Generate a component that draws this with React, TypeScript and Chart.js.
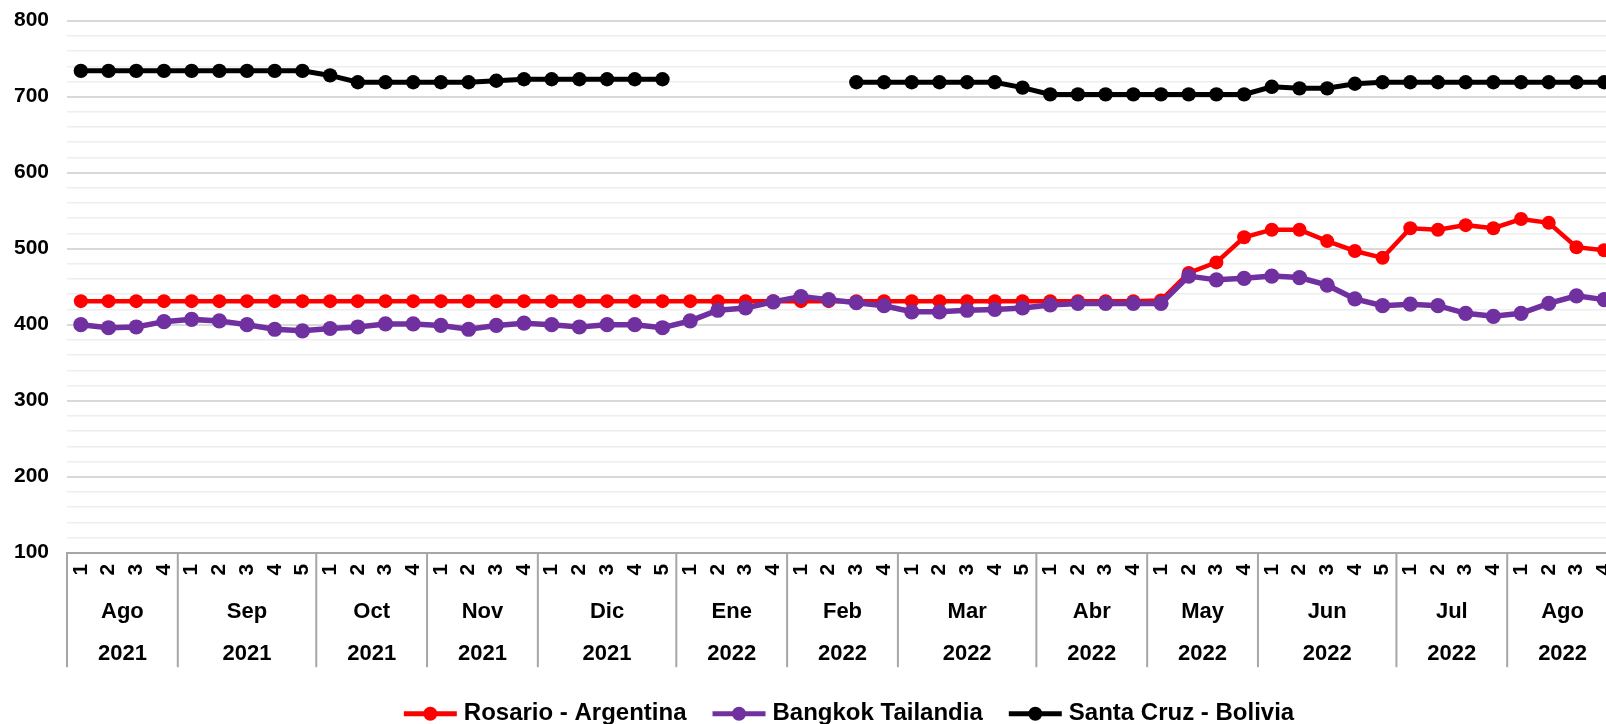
import { useEffect, useRef } from 'react';
import { Chart, registerables } from 'chart.js';

Chart.register(...registerables);

// ---------- data ----------
const weekLabels = [
  '1', '2', '3', '4',
  '1', '2', '3', '4', '5',
  '1', '2', '3', '4',
  '1', '2', '3', '4',
  '1', '2', '3', '4', '5',
  '1', '2', '3', '4',
  '1', '2', '3', '4',
  '1', '2', '3', '4', '5',
  '1', '2', '3', '4',
  '1', '2', '3', '4',
  '1', '2', '3', '4', '5',
  '1', '2', '3', '4',
  '1', '2', '3', '4',
];
const monthLabels = ['Ago', 'Sep', 'Oct', 'Nov', 'Dic', 'Ene', 'Feb', 'Mar', 'Abr', 'May', 'Jun', 'Jul', 'Ago'];
const yearLabels = ['2021', '2021', '2021', '2021', '2021', '2022', '2022', '2022', '2022', '2022', '2022', '2022', '2022'];
const weeksPerMonth = [4, 5, 4, 4, 5, 4, 4, 5, 4, 4, 5, 4, 4];

const rosario = [
  431, 431, 431, 431,
  431, 431, 431, 431, 431,
  431, 431, 431, 431,
  431, 431, 431, 431,
  431, 431, 431, 431, 431,
  431, 431, 431, 431,
  431, 431, 431, 431,
  431, 431, 431, 431, 431,
  431, 431, 431, 431,
  432, 468, 482, 515,
  525, 525, 510, 497, 488,
  527, 525, 531, 527,
  539, 534, 502, 498,
];
const bangkok = [
  400, 396, 397, 404,
  407, 405, 400, 394, 392,
  395, 397, 401, 401,
  399, 394, 399, 402,
  400, 397, 400, 400, 396,
  405, 419, 422, 430,
  437, 433, 429, 425,
  417, 417, 419, 420, 422,
  426, 428, 428, 428,
  428, 464, 459, 461,
  464, 462, 452, 434, 425,
  427, 425, 415, 411,
  415, 428, 438, 433,
];
const santaCruz = [
  734, 734, 734, 734,
  734, 734, 734, 734, 734,
  728, 719, 719, 719,
  719, 719, 721, 723,
  723, 723, 723, 723, 723,
  null, null, null, null,
  null, null, 719, 719,
  719, 719, 719, 719, 712,
  703, 703, 703, 703,
  703, 703, 703, 703,
  713, 711, 711, 717, 719,
  719, 719, 719, 719,
  719, 719, 719, 719,
];

const seriesNames = ['Rosario - Argentina', 'Bangkok Tailandia', 'Santa Cruz - Bolivia'];
const seriesColors = ['#ff0000', '#7030a0', '#000000'];

const Y_MIN = 100;
const Y_MAX = 800;
const Y_MINOR = 20;
const Y_MAJOR = 100;

// ---------- style / layout ----------
const FONT = "'Liberation Sans', Arial, Helvetica, sans-serif";
const CANVAS_W = 1660;
const CANVAS_H = 724;
const PLOT_LEFT = 67;
const PLOT_RIGHT = 1618;
const PLOT_TOP = 20.7;
const PLOT_BOTTOM = 552.7;
const XAXIS_H = 115;
const LEGEND_CX = 849;

const groupPlugin = {
  id: 'groupLabels',
  afterDraw(chart: any) {
    const ctx = chart.ctx as CanvasRenderingContext2D;
    const xs = chart.scales.x;
    const base = chart.chartArea.bottom;
    const step = xs.getPixelForValue(1) - xs.getPixelForValue(0);
    ctx.save();
    ctx.strokeStyle = '#a6a6a6';
    ctx.lineWidth = 2;
    ctx.fillStyle = '#000000';
    ctx.textAlign = 'center';
    ctx.textBaseline = 'middle';
    ctx.font = `bold 22px ${FONT}`;
    let start = 0;
    for (let g = 0; g < weeksPerMonth.length; g++) {
      const left = xs.getPixelForValue(start) - step / 2;
      const right = xs.getPixelForValue(start + weeksPerMonth[g] - 1) + step / 2;
      ctx.beginPath();
      ctx.moveTo(left, base);
      ctx.lineTo(left, base + XAXIS_H - 0.5);
      ctx.stroke();
      if (g === weeksPerMonth.length - 1) {
        ctx.beginPath();
        ctx.moveTo(right, base);
        ctx.lineTo(right, base + XAXIS_H - 0.5);
        ctx.stroke();
      }
      const cx = (left + right) / 2;
      ctx.fillText(monthLabels[g], cx, base + 59);
      ctx.fillText(yearLabels[g], cx, base + 101);
      start += weeksPerMonth[g];
    }

    // legend
    ctx.font = `bold 24px ${FONT}`;
    ctx.textAlign = 'left';
    const markerW = 53;
    const gapText = 7;
    const gapItem = 26;
    const widths = seriesNames.map((n) => ctx.measureText(n).width);
    const total = widths.reduce((a, b) => a + b, 0) + seriesNames.length * (markerW + gapText) + gapItem * (seriesNames.length - 1);
    let x = LEGEND_CX - total / 2;
    const ly = base + 161;
    seriesNames.forEach((n, i) => {
      ctx.strokeStyle = seriesColors[i];
      ctx.fillStyle = seriesColors[i];
      ctx.lineWidth = 5;
      ctx.beginPath();
      ctx.moveTo(x, ly);
      ctx.lineTo(x + markerW, ly);
      ctx.stroke();
      ctx.beginPath();
      ctx.arc(x + markerW / 2, ly, 7, 0, Math.PI * 2);
      ctx.fill();
      ctx.fillStyle = '#000000';
      ctx.fillText(n, x + markerW + gapText, ly);
      x += markerW + gapText + widths[i] + gapItem;
    });
    ctx.restore();
  },
};

export default function App() {
  const canvasRef = useRef<HTMLCanvasElement | null>(null);

  useEffect(() => {
    document.body.style.margin = '0';
    const canvas = canvasRef.current;
    if (!canvas) return;
    const datasets = [
      { data: rosario, width: 4.5, radius: 7, order: 3 },
      { data: bangkok, width: 5.5, radius: 7.6, order: 2 },
      { data: santaCruz, width: 5, radius: 7.2, order: 1 },
    ].map((d, i) => ({
      label: seriesNames[i],
      data: d.data,
      borderColor: seriesColors[i],
      backgroundColor: seriesColors[i],
      pointBackgroundColor: seriesColors[i],
      pointBorderColor: seriesColors[i],
      pointBorderWidth: 0,
      pointRadius: d.radius,
      pointHoverRadius: d.radius,
      borderWidth: d.width,
      tension: 0,
      spanGaps: false,
      order: d.order,
    }));

    const chart = new Chart(canvas, {
      type: 'line',
      data: { labels: weekLabels, datasets },
      plugins: [groupPlugin],
      options: {
        responsive: false,
        animation: false,
        devicePixelRatio: 1,
        layout: {
          autoPadding: false,
          padding: {
            left: 0,
            right: CANVAS_W - PLOT_RIGHT,
            top: PLOT_TOP,
            bottom: CANVAS_H - PLOT_BOTTOM - XAXIS_H,
          },
        },
        plugins: {
          legend: { display: false },
          tooltip: { enabled: false },
        },
        scales: {
          x: {
            type: 'category',
            offset: true,
            grid: { display: false, drawTicks: false },
            border: { display: true, color: '#a6a6a6', width: 2 },
            ticks: {
              autoSkip: false,
              minRotation: 90,
              maxRotation: 90,
              padding: 11,
              color: '#000000',
              font: { family: FONT, size: 21, weight: 'bold' },
            },
            afterFit: (scale: any) => {
              scale.height = XAXIS_H;
              scale.paddingLeft = 0;
              scale.paddingRight = 0;
            },
          },
          y: {
            min: Y_MIN,
            max: Y_MAX,
            grid: {
              drawTicks: false,
              color: (c: any) => (c.tick && c.tick.value % Y_MAJOR === 0 ? '#d9d9d9' : '#eeeeee'),
              lineWidth: (c: any) => (c.tick && c.tick.value % Y_MAJOR === 0 ? 2 : 1.6),
            },
            border: { display: false },
            ticks: {
              stepSize: Y_MINOR,
              autoSkip: false,
              padding: 18,
              color: '#000000',
              font: { family: FONT, size: 21, weight: 'bold' },
              callback: (v: any) => (Number(v) % Y_MAJOR === 0 ? String(v) : ''),
            },
            afterFit: (scale: any) => {
              scale.width = PLOT_LEFT;
              scale.paddingTop = 0;
              scale.paddingBottom = 0;
            },
          },
        },
      },
    });
    return () => chart.destroy();
  }, []);

  return (
    <div style={{ position: 'relative', width: 1606, height: 724, overflow: 'hidden', background: '#ffffff' }}>
      <div style={{ position: 'absolute', left: 0, top: 0, width: CANVAS_W, height: CANVAS_H }}>
        <canvas ref={canvasRef} width={CANVAS_W} height={CANVAS_H} style={{ width: CANVAS_W, height: CANVAS_H, display: 'block' }} />
      </div>
    </div>
  );
}
